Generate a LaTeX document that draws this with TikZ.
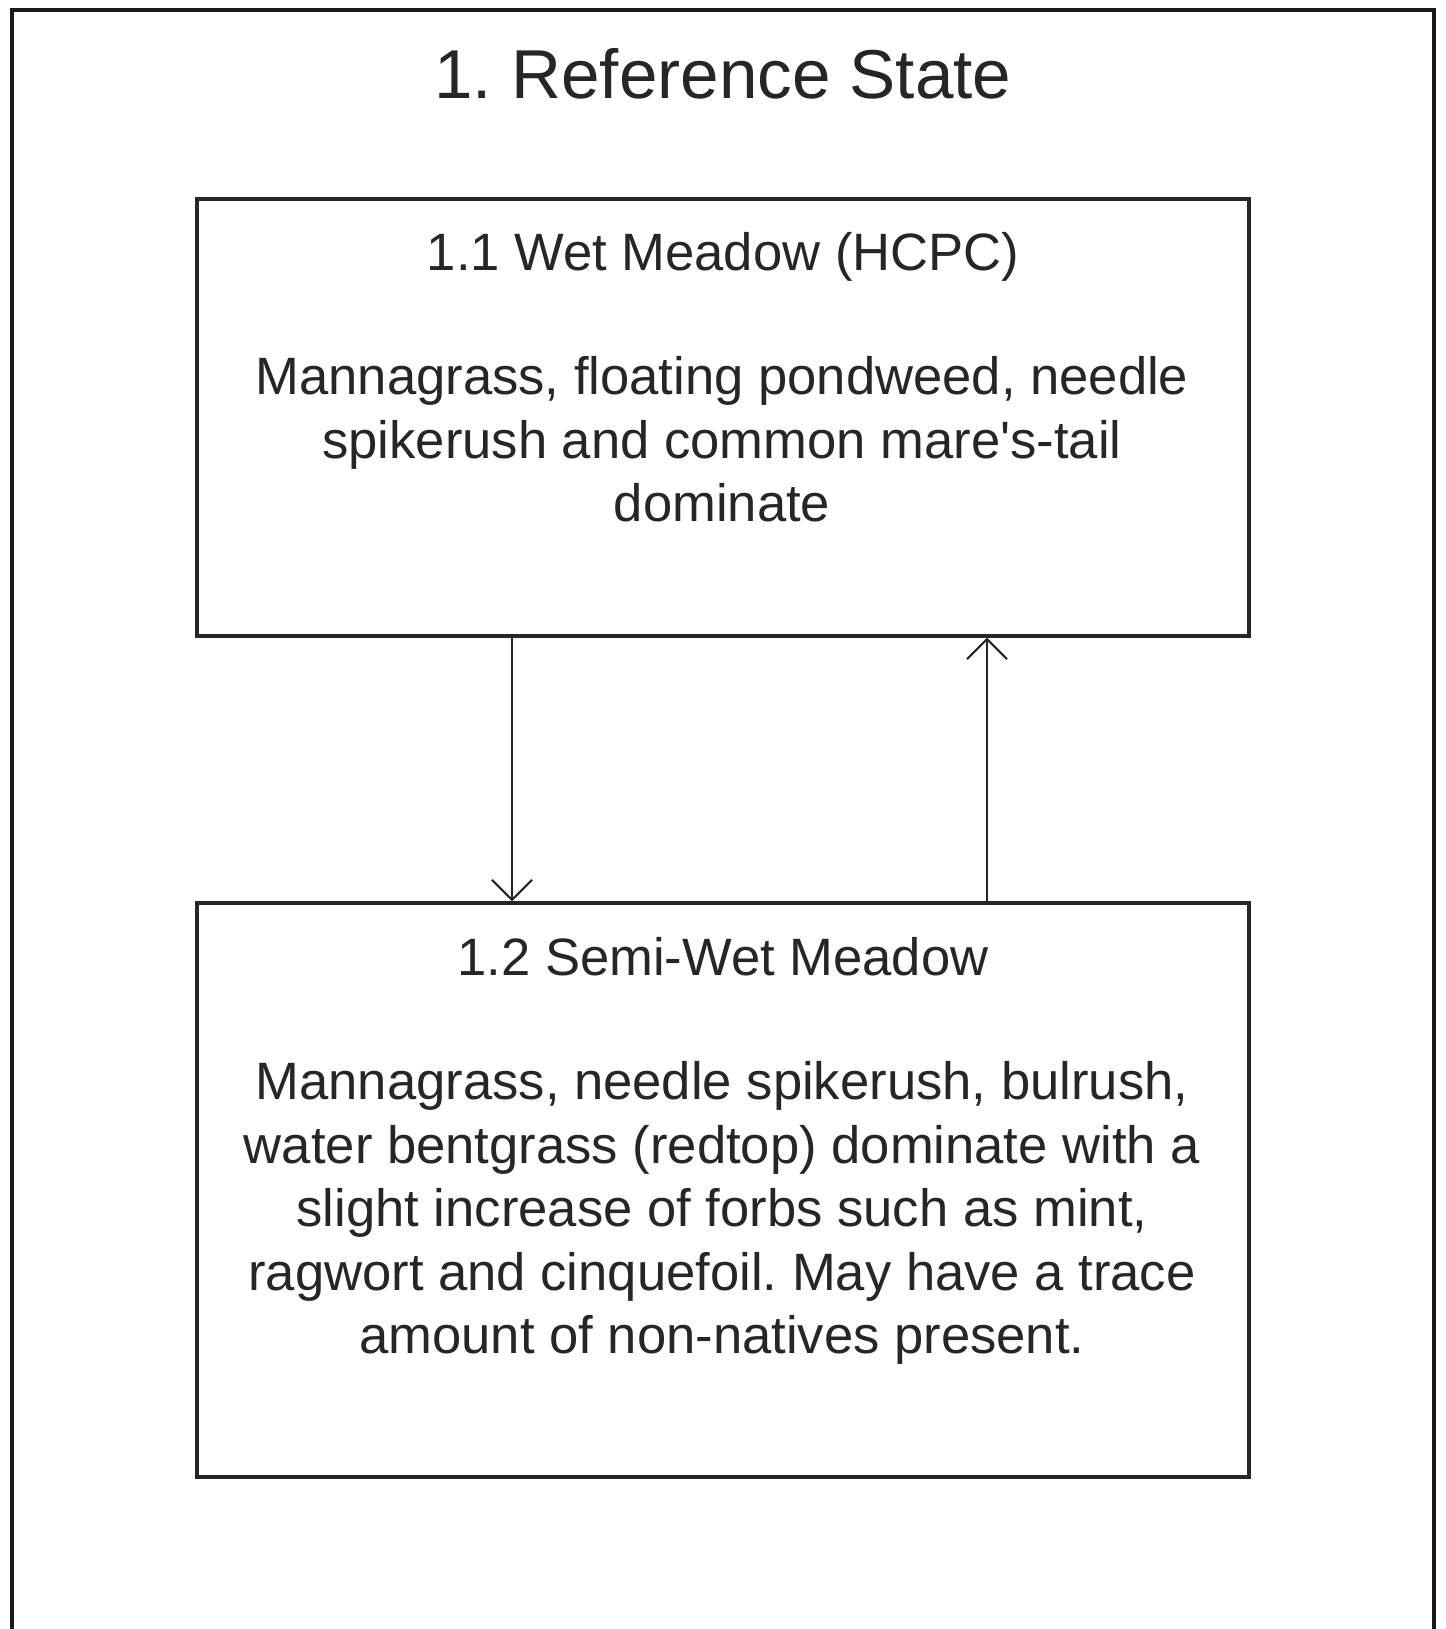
\documentclass[tikz,border=0pt]{standalone}
\usepackage{fontspec}
\setmainfont{Liberation Sans}
\usetikzlibrary{arrows.meta}
\frenchspacing
\begin{document}
\begin{tikzpicture}[x=0.5pt,y=-0.5pt,
  statebox/.style={draw=black!85, line width=1.6pt, inner sep=0pt, minimum width=526pt},
  bodytext/.style={text=black!85, align=center, inner sep=0pt, font=\fontsize{26.3}{31.7}\selectfont},
  arr/.style={draw=black!85, line width=1.1pt, -{Straight Barb[length=10pt,width=20pt,line width=1.1pt]}}]
\useasboundingbox (0,0) rectangle (1446,1629);
\fill[white] (0,0) rectangle (1446,1629);
\begin{scope}
\clip (0,0) rectangle (1446,1629);
\draw[black!90, line width=2.3pt] (12,1700) -- (12,10) -- (1434,10) -- (1434,1700);
\end{scope}
\node[anchor=base, text=black!85, inner sep=0pt, font=\fontsize{34.6}{40}\selectfont] (title) at (723,98) {1. Reference State};
\node[statebox, minimum height=218.5pt] (box1) at (723,417.5) {};
\node[statebox, minimum height=287pt] (box2) at (723,1190) {};
\node[bodytext, anchor=base] (t1) at (723,270) {1.1 Wet Meadow (HCPC)};
\node[bodytext] (b1) at (722,439.5) {Mannagrass, floating pondweed, needle\\spikerush and common mare\textquotesingle s-tail\\dominate};
\node[bodytext, anchor=base] (t2) at (723,975) {1.2 Semi-Wet Meadow};
\node[bodytext] (b2) at (722,1213) {Mannagrass, needle spikerush, bulrush,\\water bentgrass (redtop) dominate with a\\slight increase of forbs such as mint,\\ragwort and cinquefoil. May have a trace\\amount of non-natives present.};
\coordinate (cl) at (512,0);
\coordinate (cr) at (987,0);
\draw[arr] (box1.south -| cl) -- (box2.north -| cl);
\draw[arr] (box2.north -| cr) -- (box1.south -| cr);
\end{tikzpicture}
\end{document}
